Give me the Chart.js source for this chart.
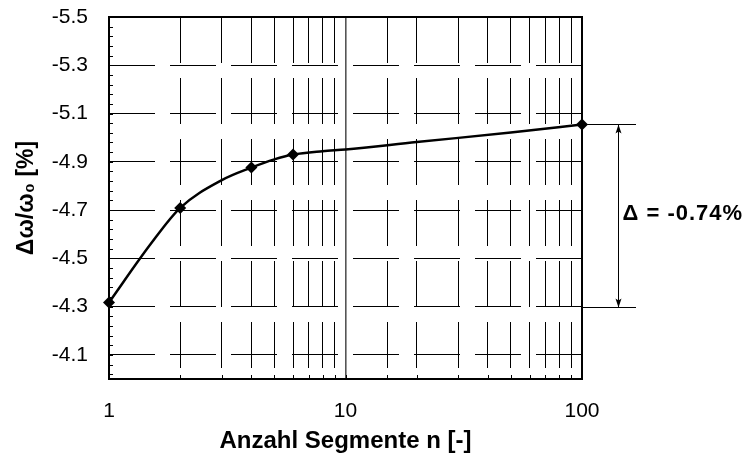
<!DOCTYPE html>
<html>
<head>
<meta charset="utf-8">
<script src="https://cdn.jsdelivr.net/npm/chart.js@4/dist/chart.umd.min.js"></script>
<style>
html,body{margin:0;padding:0;background:#fff;}
#wrap{width:746px;height:457px;position:relative;}
</style>
</head>
<body>
<div id="wrap"><canvas id="c" width="746" height="457"></canvas></div>
<script>
// ---- data ----
const curveN = [1, 1.5, 2, 3, 4, 5, 6, 8, 10, 20, 50, 100];
const curveV = [-4.317, -4.559, -4.709, -4.824, -4.876, -4.910, -4.930, -4.944, -4.951, -4.982, -5.021, -5.055];
const markerN = [1, 2, 4, 6, 100];
const markerV = [-4.317, -4.709, -4.876, -4.930, -5.055];
const xTickLabels = ['1', '10', '100'];
const yTickLabels = ['-5.5', '-5.3', '-5.1', '-4.9', '-4.7', '-4.5', '-4.3', '-4.1'];
const deltaRange = [-5.055, -4.30];
const deltaLabel = 'Δ = -0.74%';
const xTitle = 'Anzahl Segmente n [-]';
const yTitle = 'Δω/ω₀ [%]';

const FONT = '"Liberation Sans", Arial, Helvetica, sans-serif';
Chart.defaults.font.family = FONT;
Chart.defaults.color = '#000';

const yTickValues = yTickLabels.map(Number);
const xTickValues = xTickLabels.map(Number);

const framePlugin = {
  id: 'frame',
  beforeDatasetsDraw(chart) {
    const {ctx, chartArea: a, scales: {x, y}} = chart;
    ctx.save();
    ctx.strokeStyle = '#000';
    ctx.lineWidth = 1;
    ctx.beginPath();
    // minor ticks on left axis (inward)
    for (let k = 0; k <= 37; k++) {
      const v = -5.5 + k * 0.04;
      const py = Math.round(y.getPixelForValue(v)) + 0.5;
      ctx.moveTo(a.left, py); ctx.lineTo(a.left + 4, py);
    }
    // minor ticks on bottom axis (inward)
    x.ticks.forEach(t => {
      const px = Math.round(x.getPixelForValue(t.value)) + 0.5;
      ctx.moveTo(px, a.bottom); ctx.lineTo(px, a.bottom - 4);
    });
    ctx.stroke();
    ctx.lineWidth = 2;
    ctx.strokeRect(a.left, a.top, a.right - a.left, a.bottom - a.top);
    ctx.restore();
  },
  afterDraw(chart) {
    const {ctx, scales: {x, y}} = chart;
    const yTop = Math.round(y.getPixelForValue(deltaRange[0])) + 0.5;
    const yBot = Math.round(y.getPixelForValue(deltaRange[1])) + 0.5;
    const x0 = x.getPixelForValue(100);
    const xEnd = x0 + 54;
    const xa = Math.round(x0 + 36) + 0.5;
    ctx.save();
    ctx.strokeStyle = '#000';
    ctx.fillStyle = '#000';
    ctx.lineWidth = 1;
    ctx.beginPath();
    ctx.moveTo(x0, yTop); ctx.lineTo(xEnd, yTop);
    ctx.moveTo(x0, yBot); ctx.lineTo(xEnd, yBot);
    ctx.moveTo(xa, yTop); ctx.lineTo(xa, yBot);
    ctx.stroke();
    // arrow heads
    const ah = 9, aw = 3;
    ctx.beginPath();
    ctx.moveTo(xa, yTop); ctx.lineTo(xa - aw, yTop + ah); ctx.lineTo(xa, yTop + ah - 2); ctx.lineTo(xa + aw, yTop + ah); ctx.closePath();
    ctx.moveTo(xa, yBot); ctx.lineTo(xa - aw, yBot - ah); ctx.lineTo(xa, yBot - ah + 2); ctx.lineTo(xa + aw, yBot - ah); ctx.closePath();
    ctx.fill();
    // label
    ctx.font = 'bold 22px ' + FONT;
    ctx.letterSpacing = '1px';
    ctx.textAlign = 'left';
    ctx.textBaseline = 'alphabetic';
    ctx.fillText(deltaLabel, xa + 4, (yTop + yBot) / 2 + 4);
    ctx.restore();
  }
};

new Chart(document.getElementById('c'), {
  type: 'scatter',
  data: {
    datasets: [
      {
        data: curveN.map((n, i) => ({x: n, y: curveV[i]})),
        showLine: true,
        borderColor: '#000',
        borderWidth: 2.5,
        pointRadius: 0,
        cubicInterpolationMode: 'monotone',
        fill: false
      },
      {
        data: markerN.map((n, i) => ({x: n, y: markerV[i]})),
        showLine: false,
        pointStyle: 'rectRot',
        pointRadius: 6,
        backgroundColor: '#000',
        borderColor: '#000',
        borderWidth: 0,
        clip: false
      }
    ]
  },
  options: {
    responsive: false,
    animation: false,
    devicePixelRatio: 1,
    layout: {padding: {top: 17, right: 164, left: 0, bottom: 0}},
    plugins: {legend: {display: false}, tooltip: {enabled: false}},
    scales: {
      x: {
        type: 'logarithmic',
        min: 1,
        max: 100,
        afterFit(s) { s.height = 78; s.paddingLeft = 0; s.paddingRight = 0; },
        ticks: {
          autoSkip: false,
          maxRotation: 0,
          padding: 20,
          font: {size: 21},
          color: '#000',
          callback: (v) => xTickValues.includes(v) ? xTickLabels[xTickValues.indexOf(v)] : ''
        },
        grid: {
          drawTicks: false,
          color: (c) => (c.tick && c.tick.value === 10) ? '#555' : '#000',
          lineWidth: (c) => (c.tick && c.tick.value === 10) ? 1.6 : 1
        },
        border: {
          display: false,
          dash: (c) => (c.tick && c.tick.value === 10) ? [] : [46, 15]
        },
        title: {
          display: true,
          text: xTitle,
          font: {size: 24, weight: 'bold'},
          color: '#000',
          padding: {top: 0, bottom: 1}
        }
      },
      y: {
        type: 'linear',
        min: -5.5,
        max: -4.0,
        reverse: true,
        afterFit(s) { s.width = 109; s.paddingTop = 0; s.paddingBottom = 0; },
        afterBuildTicks(s) { s.ticks = yTickValues.map(v => ({value: v})); },
        ticks: {
          padding: 21,
          font: {size: 21},
          color: '#000',
          callback: (v) => { const i = yTickValues.indexOf(v); return i >= 0 ? yTickLabels[i] : ''; }
        },
        grid: {drawTicks: false, color: '#000', lineWidth: 1},
        border: {display: false, dash: [46, 15]},
        title: {
          display: true,
          text: yTitle,
          font: {size: 23, weight: 'bold'},
          color: '#000',
          padding: {top: 13, bottom: 0}
        }
      }
    }
  },
  plugins: [framePlugin]
});
</script>
</body>
</html>
